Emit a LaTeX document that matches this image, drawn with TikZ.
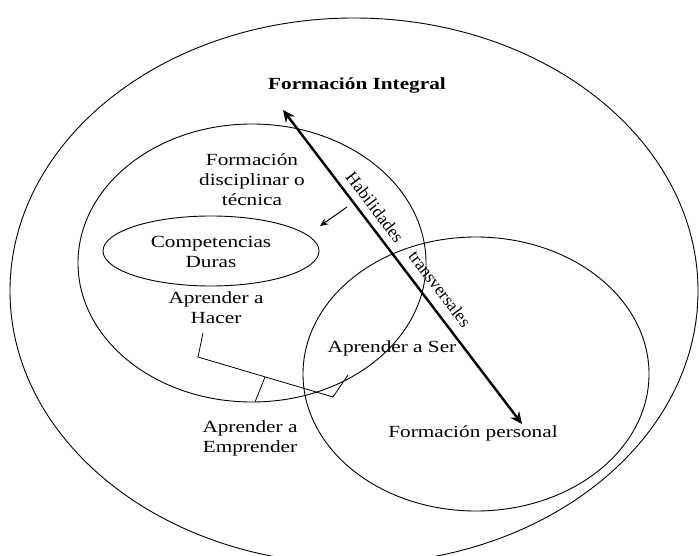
\documentclass[tikz,border=0pt]{standalone}
\usepackage{fontspec}
\setmainfont[FakeStretch=1.25]{Liberation Serif}
\newfontfamily\plainserif{Liberation Serif}
\usetikzlibrary{arrows.meta}
\begin{document}
\begin{tikzpicture}[x=1pt,y=-1pt,
  ring/.style={draw, line width=0.9pt},
  lbl/.style={font=\fontsize{17}{20}\selectfont, align=center, inner sep=0pt},
  rlbl/.style={font=\plainserif\fontsize{17.5}{20}\selectfont, inner sep=0pt, rotate=-52.7},
  bigarrow/.style={line width=2.4pt, {Stealth[length=12pt,width=11pt]}-{Stealth[length=12pt,width=11pt]}},
  smallarrow/.style={line width=1pt, -{Stealth[length=8pt,width=7pt]}},
  brace/.style={line width=0.8pt}]
\useasboundingbox (0,0) rectangle (699,556);
\fill[white] (0,0) rectangle (699,556);
\begin{scope}
\clip (0,0) rectangle (699,556);
\draw[ring] (354,291) ellipse [x radius=344, y radius=273];
\end{scope}
\draw[ring] (252,263) ellipse [x radius=174, y radius=139];
\draw[ring] (476,374) ellipse [x radius=173, y radius=137];
\draw[ring] (211,251) ellipse [x radius=108, y radius=35];

\node[lbl, font=\fontsize{17}{20}\selectfont\bfseries] (fi) at (357,85) {Formación Integral};
\node[lbl] (fd) at (252,180) {Formación\\disciplinar o\\técnica};
\node[lbl] (cd) at (211,252) {Competencias\\Duras};
\node[lbl] (ah) at (216,308) {Aprender a\\Hacer};
\node[lbl] (as) at (392,348) {Aprender a Ser};
\node[lbl] (ae) at (250,438) {Aprender a\\Emprender};
\node[lbl] (fp) at (473,433) {Formación personal};

\coordinate (a1) at (283,110);
\coordinate (a2) at (522,424);
\draw[bigarrow] (a1) -- (a2);
\node[rlbl] (hab) at (375,207) {Habilidades};
\node[rlbl] (tra) at (440,289) {transversales};

\coordinate (s1) at (347,207);
\coordinate (s2) at (320,226);
\draw[smallarrow] (s1) -- (s2);

\coordinate (b1) at (203,333);
\coordinate (b2) at (198,357);
\coordinate (b3) at (333,397);
\coordinate (b4) at (348,375);
\coordinate (bm) at (265,377);
\coordinate (bt) at (255,402);
\draw[brace] (b1) -- (b2) -- (b3) -- (b4);
\draw[brace] (bm) -- (bt);
\end{tikzpicture}
\end{document}
